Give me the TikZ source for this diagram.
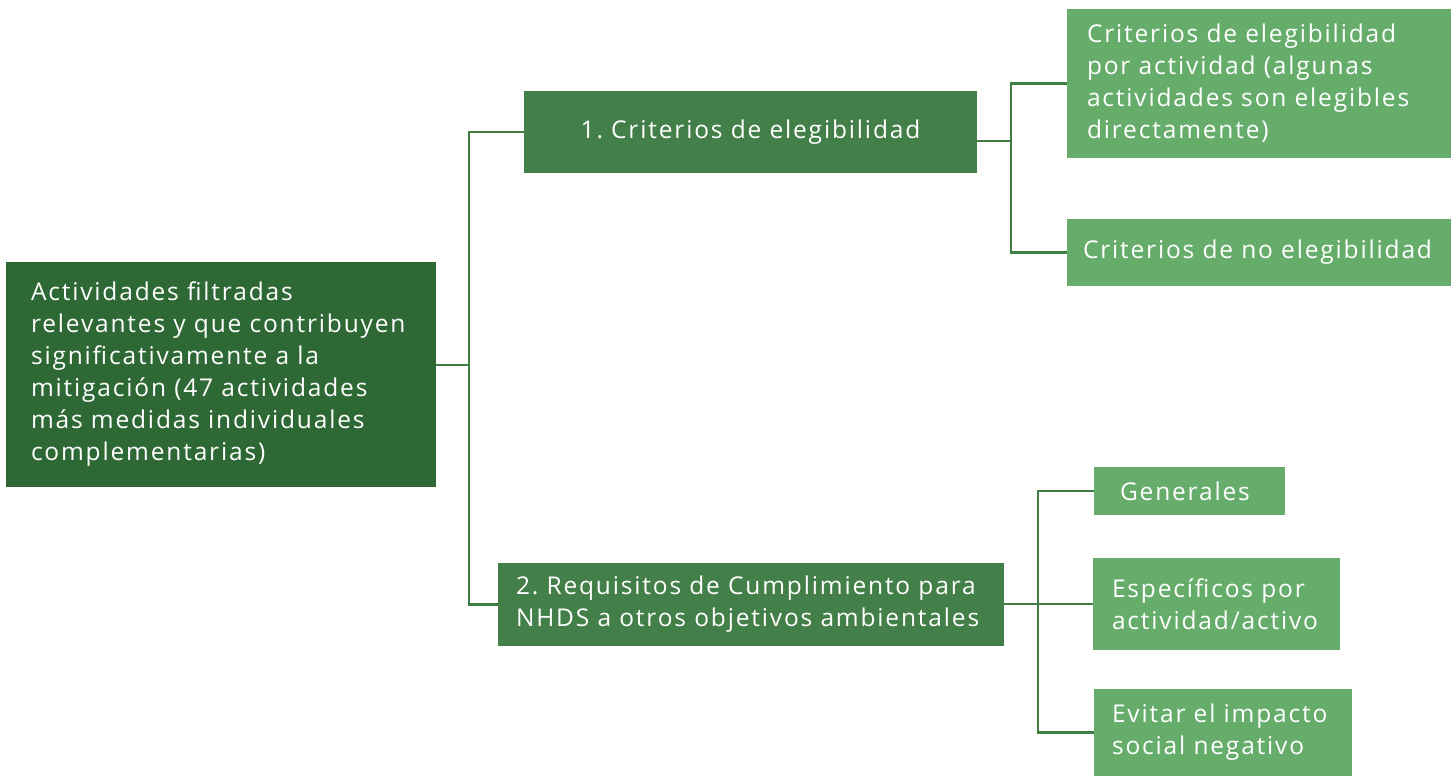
\documentclass[tikz,border=0pt]{standalone}
\usepackage{fontspec}
\setmainfont[LetterSpace=7.5]{Open Sans}
\definecolor{dkg}{HTML}{2E6834}
\definecolor{mdg}{HTML}{437F48}
\definecolor{ltg}{HTML}{66AD6B}
\definecolor{lng}{HTML}{3F7D45}
\tikzset{
  box/.style={inner ysep=0pt, align=left, text=white, font=\fontsize{24.5}{32}\selectfont},
  rootbox/.style={box, fill=dkg},
  midbox/.style={box, fill=mdg},
  leafbox/.style={box, fill=ltg},
  conn/.style={draw=lng, line width=2.4pt}
}
\begin{document}
\frenchspacing
\begin{tikzpicture}[x=1pt,y=-1pt]
\useasboundingbox (0,0) rectangle (1456,776);
\node[rootbox, minimum width=430pt, minimum height=225pt, text width=380pt, inner xsep=25pt] (root) at (221,374.5)
  {Actividades filtradas\\relevantes y que contribuyen\\significativamente a la\\mitigación (47 actividades\\más medidas individuales\\complementarias)};
\node[midbox, minimum width=453pt, minimum height=82pt, text width=433pt, inner xsep=10pt, align=center] (b1) at (750.5,132)
  {1. Criterios de elegibilidad};
\node[midbox, minimum width=506pt, minimum height=83pt, text width=470pt, inner xsep=18pt] (b2) at (751,604.5)
  {2. Requisitos de Cumplimiento para\\NHDS a otros objetivos ambientales};
\node[leafbox, minimum width=384pt, minimum height=149pt, text width=364pt, inner xsep=10pt] (la) at (1259,83.5)
  {\hspace*{10pt}Criterios de elegibilidad\\\hspace*{10pt}por actividad (algunas\\\hspace*{10pt}actividades son elegibles\\\hspace*{10pt}directamente)};
\node[leafbox, minimum width=384pt, minimum height=67pt, text width=374pt, inner xsep=5pt] (lb) at (1259,252.5)
  {\hspace*{11pt}Criterios de no elegibilidad};
\node[leafbox, minimum width=191pt, minimum height=48pt, text width=171pt, inner xsep=10pt] (lc) at (1189.5,491)
  {\hspace*{16pt}Generales};
\node[leafbox, minimum width=247pt, minimum height=92pt, text width=237pt, inner xsep=5pt] (ld) at (1216.5,604)
  {\hspace*{14pt}Específicos por\\\hspace*{14pt}actividad/activo};
\node[leafbox, minimum width=258pt, minimum height=87pt, text width=248pt, inner xsep=5pt] (le) at (1223,732.5)
  {\hspace*{13pt}Evitar el impacto\\\hspace*{13pt}social negativo};
\coordinate (j0) at (469,365);
\coordinate (j1) at (1011,141);
\coordinate (j2) at (1038,604);
\draw[conn] (root.east |- j0) -- (j0);
\draw[conn] (j0) |- (b1.west);
\draw[conn] (j0) |- (b2.west);
\draw[conn] (b1.east |- j1) -- (j1);
\draw[conn] (j1) |- (la.west);
\draw[conn] (j1) |- (lb.west);
\draw[conn] (b2.east |- j2) -- (ld.west);
\draw[conn] (j2) |- (lc.west);
\draw[conn] (j2) |- (le.west);
\end{tikzpicture}
\end{document}
